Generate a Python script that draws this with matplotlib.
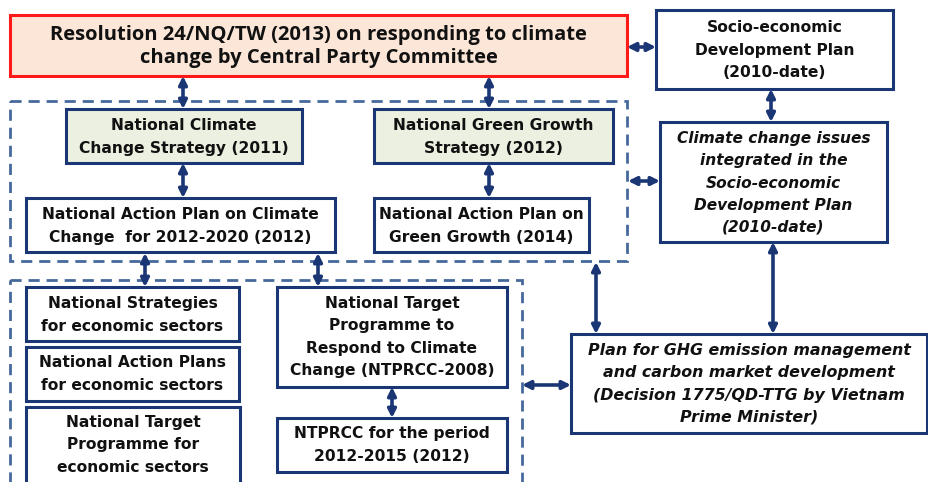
import matplotlib
matplotlib.use("Agg")
import matplotlib.pyplot as plt
from matplotlib.patches import Rectangle

# ---- content ----
node_ids = ["res", "sedp", "ccsedp", "nccs", "nggs", "napcc", "napgg",
            "nssec", "napsec", "ntpsec", "ntprcc", "ntprcc2", "ghg"]
node_texts = [
    "Resolution 24/NQ/TW (2013) on responding to climate\nchange by Central Party Committee",
    "Socio-economic\nDevelopment Plan\n(2010-date)",
    "Climate change issues\nintegrated in the\nSocio-economic\nDevelopment Plan\n(2010-date)",
    "National Climate\nChange Strategy (2011)",
    "National Green Growth\nStrategy (2012)",
    "National Action Plan on Climate\nChange  for 2012-2020 (2012)",
    "National Action Plan on\nGreen Growth (2014)",
    "National Strategies\nfor economic sectors",
    "National Action Plans\nfor economic sectors",
    "National Target\nProgramme for\neconomic sectors",
    "National Target\nProgramme to\nRespond to Climate\nChange (NTPRCC-2008)",
    "NTPRCC for the period\n2012-2015 (2012)",
    "Plan for GHG emission management\nand carbon market development\n(Decision 1775/QD-TTG by Vietnam\nPrime Minister)",
]
italic_nodes = ["ccsedp", "ghg"]

# ---- layout (pixel coords, y downward) ----
W, H = 929, 482
boxes = {
    "res":     (10, 15, 627, 76),
    "sedp":    (656, 10, 893, 89),
    "ccsedp":  (660, 122, 887, 242),
    "nccs":    (66, 109, 302, 163),
    "nggs":    (374, 109, 613, 163),
    "napcc":   (26, 198, 335, 252),
    "napgg":   (374, 198, 589, 252),
    "nssec":   (26, 287, 239, 341),
    "napsec":  (26, 347, 239, 401),
    "ntpsec":  (26, 407, 240, 490),
    "ntprcc":  (277, 287, 507, 387),
    "ntprcc2": (277, 418, 507, 472),
    "ghg":     (571, 334, 927, 433),
}
text_centers = {"ntpsec": 445, "sedp": 50, "ccsedp": 183, "ghg": 384,
                "napcc": 226, "napgg": 226, "ntprcc": 337, "nccs": 137,
                "nggs": 137, "nssec": 315, "napsec": 374, "ntprcc2": 445}
font_sizes = {"ghg": 11.4, "ccsedp": 11.1}
dashed = [(10, 101, 627, 261), (10, 280, 522, 495)]
arrows = [  # (x1, y1, x2, y2)
    (627, 47, 656, 47),
    (771, 89, 771, 122),
    (628, 181, 660, 181),
    (183, 76, 183, 109),
    (489, 76, 489, 109),
    (183, 163, 183, 198),
    (489, 163, 489, 198),
    (145, 253, 145, 287),
    (318, 253, 318, 287),
    (392, 387, 392, 418),
    (522, 385, 571, 385),
    (596, 262, 596, 334),
    (773, 242, 773, 334),
]

NAVY = "#1b3675"
DASH = "#46699c"

fig = plt.figure(figsize=(W / 100, H / 100), dpi=100)
ax = fig.add_axes([0, 0, 1, 1])
ax.set_xlim(0, W)
ax.set_ylim(H, 0)
ax.axis("off")

for (x0, y0, x1, y1) in dashed:
    ax.add_patch(Rectangle((x0, y0), x1 - x0, y1 - y0, fill=False,
                           edgecolor=DASH, lw=2, linestyle=(0, (4, 2.5)), zorder=1))

texts = dict(zip(node_ids, node_texts))
for nid in node_ids:
    x0, y0, x1, y1 = boxes[nid]
    if nid == "res":
        fc, ec, lw = "#fbe6d8", "#ff1a1a", 2.2
    elif nid in ("nccs", "nggs"):
        fc, ec, lw = "#ebf0e0", NAVY, 2.2
    else:
        fc, ec, lw = "white", NAVY, 2.2
    ax.add_patch(Rectangle((x0, y0), x1 - x0, y1 - y0, facecolor=fc,
                           edgecolor=ec, lw=lw, zorder=2))
    cx = (x0 + x1) / 2
    cy = text_centers.get(nid, (y0 + y1) / 2)
    if nid == "res":
        ax.text(cx, cy + 1, texts[nid], ha="center", va="center", fontsize=14.5,
                fontweight="bold", family="Open Sans", color="#111111",
                linespacing=1.22, zorder=3)
    else:
        nlines = texts[nid].count("\n") + 1
        ax.text(cx, cy, texts[nid], ha="center", va="center",
                fontsize=font_sizes.get(nid, 11.2),
                fontweight="bold", family="DejaVu Sans", color="#111111",
                style="italic" if nid in italic_nodes else "normal",
                linespacing=1.72 if nlines == 2 else 1.6, zorder=3)

for (x1, y1, x2, y2) in arrows:
    ax.annotate("", xy=(x2, y2), xytext=(x1, y1),
                arrowprops=dict(arrowstyle="<|-|>", color=NAVY, lw=2.6,
                                mutation_scale=12, shrinkA=0, shrinkB=0),
                zorder=4)

fig.savefig("out.png", dpi=100, facecolor="white")
